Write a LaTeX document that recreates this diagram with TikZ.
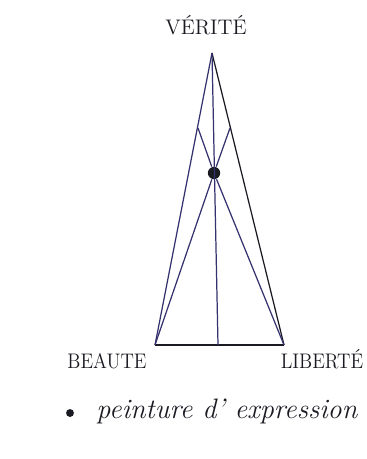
\documentclass[tikz,border=0pt]{standalone}
\usepackage{xcolor}
\usepackage{tikz}
\usetikzlibrary{positioning}
\definecolor{penBlue}{HTML}{34326E}
\definecolor{penBlack}{HTML}{1A1A22}

\begin{document}
\begin{tikzpicture}[x=0.02cm, y=-0.02cm, line width=0.7pt, font=\large]
            \useasboundingbox[fill=white] (0,0) rectangle (366,459);
            \coordinate (verite) at (212,53);
            \coordinate (beaute) at (155,345);
            \coordinate (liberte) at (284,345);
            \coordinate (base) at (218,345);
            \coordinate (left) at (198,128);
            \coordinate (right) at (230,128);
            \node[circle, fill=penBlack, inner sep=0pt, minimum size=7pt] (dot) at (214,173) {};
            \node[penBlack] (tv) at (206,25) {V\'ERIT\'E};
            \node[penBlack, xscale=0.9] (tb) at (107,361) {BEAUTE};
            \node[penBlack, xscale=0.9] (tl) at (322,359) {LIBERT\'E};
            \node[circle, fill=penBlack, inner sep=0pt, minimum size=4.5pt] (bul) at (70,413) {};
            \node[penBlack, anchor=base west, font=\fontsize{16}{18}\selectfont\itshape] (txt) at (90,418) {peinture d' expression};
            \draw[penBlue] (verite) -- (beaute);
            \draw[penBlack] (verite) -- (liberte);
            \draw[penBlack] (beaute) -- (liberte);
            \draw[penBlue] (verite) -- (base);
            \draw[penBlue] (beaute) -- (dot) -- (right);
            \draw[penBlue] (liberte) -- (dot) -- (left);
        \end{tikzpicture}
\end{document}
